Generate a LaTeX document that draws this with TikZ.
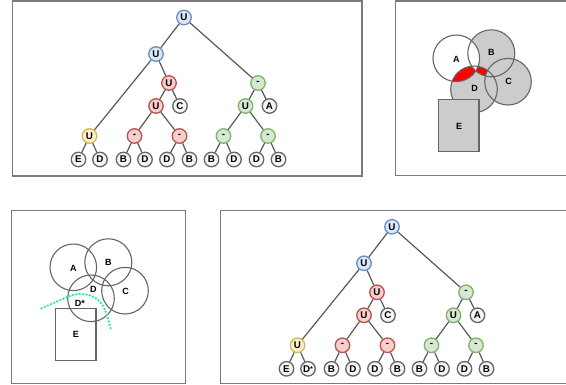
\documentclass[tikz,border=0pt]{standalone}
\usepackage{fontspec}
\setmainfont{Liberation Sans}
\definecolor{bfill}{HTML}{DAE8FC}\definecolor{bdraw}{HTML}{6C8EBF}
\definecolor{rfill}{HTML}{F8CECC}\definecolor{rdraw}{HTML}{B85450}
\definecolor{gfill}{HTML}{D5E8D4}\definecolor{gdraw}{HTML}{82B366}
\definecolor{yfill}{HTML}{FFF2CC}\definecolor{ydraw}{HTML}{D6B656}
\definecolor{lfill}{HTML}{F5F5F5}\definecolor{ldraw}{HTML}{666666}
\definecolor{edgec}{HTML}{595959}
\definecolor{framec}{HTML}{7A7A7A}
\definecolor{venng}{HTML}{CCCCCC}
\definecolor{dotg}{RGB}{20,240,150}
\tikzset{
  tn/.style={circle, draw, line width=1.3pt, minimum size=14.5pt, inner sep=0pt,
    font=\fontsize{9.8}{10}\selectfont\bfseries},
  bluen/.style={tn, fill=bfill, draw=bdraw},
  redn/.style={tn, fill=rfill, draw=rdraw},
  greenn/.style={tn, fill=gfill, draw=gdraw},
  yellown/.style={tn, fill=yfill, draw=ydraw},
  leafn/.style={tn, fill=lfill, draw=ldraw},
  edge/.style={draw=edgec, line width=1.2pt},
  frame/.style={draw=framec, line width=1.3pt},
  vcirc/.style={draw=ldraw, line width=1.1pt},
  vlab/.style={font=\fontsize{9}{9}\selectfont\bfseries, inner sep=0pt},
  greendots/.style={draw=dotg, line width=2.5pt, line cap=round, dash pattern=on 0pt off 3.4pt}
}
\newcommand\mytree[4]{%
\begin{scope}[shift={(#2,#3)}]
  \node[bluen] (#1root) at (184,17.5) {U};
  \node[bluen] (#1u2) at (156,54) {U};
  \node[redn] (#1ru) at (169,83) {U};
  \node[redn] (#1ru2) at (156,106) {U};
  \node[leafn] (#1c) at (180,106) {C};
  \node[greenn] (#1gm) at (258,83) {-};
  \node[greenn] (#1gu) at (245.5,106) {U};
  \node[leafn] (#1a) at (269.5,106) {A};
  \node[yellown] (#1y) at (89.5,136) {U};
  \node[redn] (#1r1) at (134.5,136) {-};
  \node[redn] (#1r2) at (179.5,136) {-};
  \node[greenn] (#1g1) at (223.5,136) {-};
  \node[greenn] (#1g2) at (268,136) {-};
  \node[leafn] (#1l1) at (78.5,159.5) {E};
  \node[leafn] (#1l2) at (100,159.5) {#4};
  \node[leafn] (#1l3) at (123.5,159.5) {B};
  \node[leafn] (#1l4) at (145,159.5) {D};
  \node[leafn] (#1l5) at (167,159.5) {D};
  \node[leafn] (#1l6) at (189.5,159.5) {B};
  \node[leafn] (#1l7) at (211.5,159.5) {B};
  \node[leafn] (#1l8) at (234,159.5) {D};
  \node[leafn] (#1l9) at (256.5,159.5) {D};
  \node[leafn] (#1l10) at (278.5,159.5) {B};
  \draw[edge] (#1root) -- (#1u2);
  \draw[edge] (#1root) -- (#1gm);
  \draw[edge] (#1u2) -- (#1y);
  \draw[edge] (#1u2) -- (#1ru);
  \draw[edge] (#1ru) -- (#1ru2);
  \draw[edge] (#1ru) -- (#1c);
  \draw[edge] (#1ru2) -- (#1r1);
  \draw[edge] (#1ru2) -- (#1r2);
  \draw[edge] (#1gm) -- (#1gu);
  \draw[edge] (#1gm) -- (#1a);
  \draw[edge] (#1gu) -- (#1g1);
  \draw[edge] (#1gu) -- (#1g2);
  \draw[edge] (#1y) -- (#1l1);
  \draw[edge] (#1y) -- (#1l2);
  \draw[edge] (#1r1) -- (#1l3);
  \draw[edge] (#1r1) -- (#1l4);
  \draw[edge] (#1r2) -- (#1l5);
  \draw[edge] (#1r2) -- (#1l6);
  \draw[edge] (#1g1) -- (#1l7);
  \draw[edge] (#1g1) -- (#1l8);
  \draw[edge] (#1g2) -- (#1l9);
  \draw[edge] (#1g2) -- (#1l10);
\end{scope}}
\begin{document}
\begin{tikzpicture}[x=1pt,y=-1pt]
\useasboundingbox (0,0) rectangle (566,385);
\fill[white] (0,0) rectangle (566,385);
% frames
\draw[frame] (12.7,1) rectangle (362,176);
\draw[frame] (395.7,1) rectangle (575,175.7);
\draw[frame] (11.7,210.7) rectangle (185.7,383.7);
\draw[frame] (220.7,210.7) rectangle (575,383.7);
% trees
\mytree{t}{0}{0}{D}
\mytree{b}{208}{209.3}{D\raisebox{0.5pt}{\fontsize{7}{7}\selectfont*}}
% top-right venn
\coordinate (vA) at (456.3,58.3);
\coordinate (vB) at (491.3,53.3);
\coordinate (vC) at (508,81.7);
\coordinate (vD) at (474,89.3);
\fill[venng] (vB) circle (23.5pt);
\fill[venng] (vC) circle (23.3pt);
\fill[venng] (vD) circle (23.3pt);
\fill[white] (vA) circle (23.3pt);
\begin{scope}
  \clip (vA) circle (23.3pt);
  \clip (vD) circle (23.3pt);
  \fill[red, even odd rule] (420,20) rectangle (550,130) (vB) circle (23.5pt);
\end{scope}
\begin{scope}
  \clip (vB) circle (23.5pt);
  \clip (vD) circle (23.3pt);
  \fill[red, even odd rule] (420,20) rectangle (550,130) (vA) circle (23.3pt) (vC) circle (23.3pt);
\end{scope}
\draw[vcirc] (vA) circle (23.3pt);
\draw[vcirc] (vB) circle (23.5pt);
\draw[vcirc] (vC) circle (23.3pt);
\draw[vcirc] (vD) circle (23.3pt);
\draw[vcirc, fill=venng] (438.7,99.3) rectangle (479,151.7);
\node[vlab] (tA) at (456.3,59) {A};
\node[vlab] (tB) at (491.3,52.7) {B};
\node[vlab] (tC) at (508.7,81.7) {C};
\node[vlab] (tD) at (474.7,88.3) {D};
\node[vlab] (tE) at (459,126) {E};
% bottom-left venn
\draw[vcirc] (73.3,267.3) circle (23.3pt);
\draw[vcirc] (108.3,262.3) circle (23.5pt);
\draw[vcirc] (125,290.7) circle (23.3pt);
\draw[vcirc] (91,298.3) circle (23.3pt);
\draw[vcirc] (55.7,308.3) rectangle (96,360.7);
\draw[greendots] plot[smooth, tension=0.6] coordinates {(41.7,308.3) (56.7,301.7) (70,296) (80,294) (91.7,296) (100,301.7) (105,310) (108.3,320) (110.7,329.3)};
\node[vlab] (bA) at (73.3,268.7) {A};
\node[vlab] (bB) at (108.3,262) {B};
\node[vlab] (bC) at (125.7,291.3) {C};
\node[vlab] (bD) at (93.3,289.7) {D};
\node[vlab] (bDs) at (80,303) {D*};
\node[vlab] (bE) at (76,334.7) {E};
\end{tikzpicture}
\end{document}
